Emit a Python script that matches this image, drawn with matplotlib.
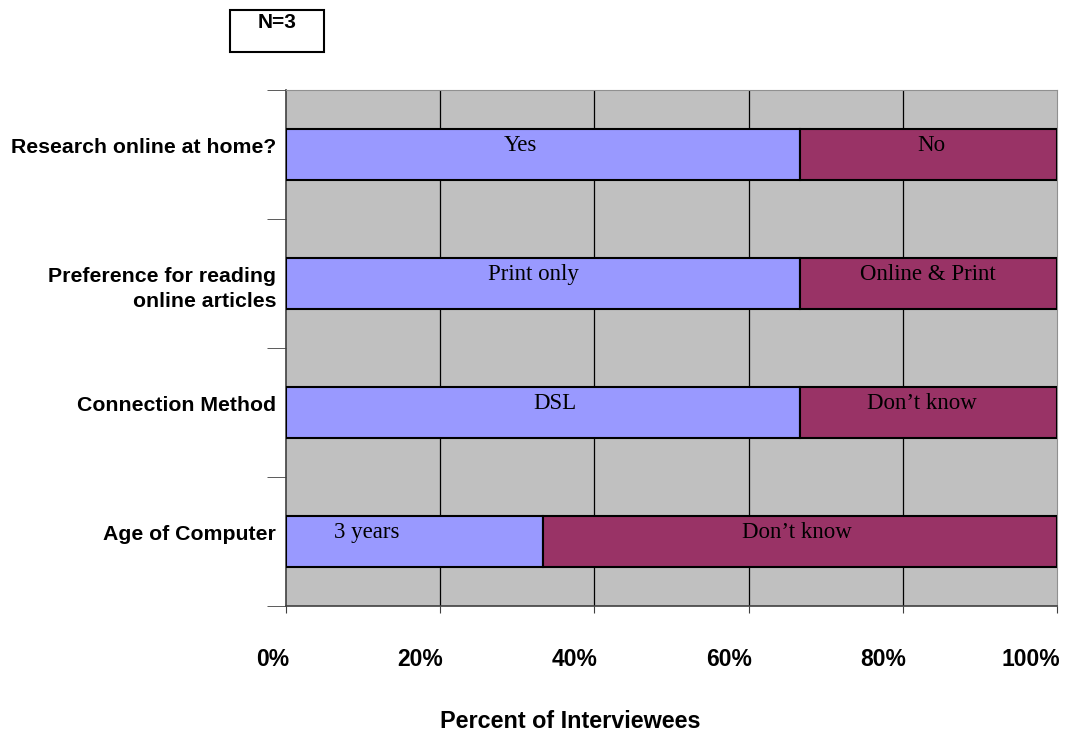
import matplotlib.pyplot as plt
import matplotlib.transforms as mtransforms
import numpy as np

# survey questions (top to bottom) and answer shares
questions = ["Research online at home?", "Preference for reading\nonline articles",
             "Connection Method", "Age of Computer"]
first_share = [66.7, 66.7, 66.7, 33.3]
second_share = [33.3, 33.3, 33.3, 66.7]
first_label = ["Yes", "Print only", "DSL", "3 years"]
second_label = ["No", "Online & Print", "Don\u2019t know", "Don\u2019t know"]
# where the answer text sits along the bar (percent)
first_text_x = [30.4, 32.1, 34.9, 10.5]
second_text_x = [83.7, 83.2, 82.5, 66.3]
xticks = [0, 20, 40, 60, 80, 100]

fig = plt.figure(figsize=(10.65, 7.34), dpi=100)
ax = fig.add_axes([286/1065, 1-606/734, (1057-286)/1065, (606-90)/734])
ax.set_facecolor("#C0C0C0")

y = np.arange(len(questions))
ax.barh(y, first_share, height=0.4, color="#9999FF", edgecolor="black", linewidth=1.5, zorder=3)
ax.barh(y, second_share, left=first_share, height=0.4, color="#993366", edgecolor="black",
        linewidth=1.5, zorder=3)

for i in range(len(questions)):
    ax.text(first_text_x[i], y[i] - 0.07, first_label[i], ha="center", va="center",
            fontsize=16.5, family="Liberation Serif", zorder=4)
    ax.text(second_text_x[i], y[i] - 0.07, second_label[i], ha="center", va="center",
            fontsize=16.5, family="Liberation Serif", zorder=4)

ax.set_xlim(0, 100)
ax.set_ylim(3.5, -0.5)
for gx in xticks[1:-1]:
    ax.axvline(gx, color="black", linewidth=0.9, zorder=1)

ax.set_xticks(xticks)
ax.set_xticklabels([f"{t}%" for t in xticks], fontsize=16.5, fontweight="bold",
                   family="Liberation Sans", ha="right")
ax.tick_params(axis="x", length=5, pad=25, color="#404040")
offx = mtransforms.ScaledTranslation(0.03, 0, fig.dpi_scale_trans)
for lab in ax.get_xticklabels():
    lab.set_transform(lab.get_transform() + offx)

ax.set_yticks(y)
ax.set_yticklabels(questions, fontsize=15.3, fontweight="bold", family="Liberation Sans",
                   ha="right", multialignment="right", linespacing=1.45)
ax.tick_params(axis="y", which="major", length=0, pad=7)
for lab in ax.get_yticklabels():
    dy = 0.0 if "\n" in lab.get_text() else 0.09
    lab.set_transform(lab.get_transform() + mtransforms.ScaledTranslation(0, dy, fig.dpi_scale_trans))
ax.set_yticks(np.arange(-0.5, 4.0, 1.0), minor=True)
ax.tick_params(axis="y", which="minor", length=14, color="#404040")

for side in ["top", "right"]:
    ax.spines[side].set_color("#909090")
ax.spines["left"].set_color("#404040")
ax.spines["bottom"].set_color("#404040")
ax.spines["left"].set_linewidth(1.2)
ax.spines["bottom"].set_linewidth(1.2)

fig.text(570/1065, 1-722/734, "Percent of Interviewees", ha="center", va="center",
         fontsize=16.8, fontweight="bold", family="Liberation Sans")

fig.patches.append(plt.Rectangle((230/1065, 1-52/734), 94/1065, 42/734, transform=fig.transFigure,
                                 fill=False, edgecolor="black", linewidth=1.5))
fig.text(277/1065, 1-22/734, "N=3", ha="center", va="center", fontsize=15,
         fontweight="bold", family="Liberation Sans")

fig.savefig("out.png", dpi=100)
